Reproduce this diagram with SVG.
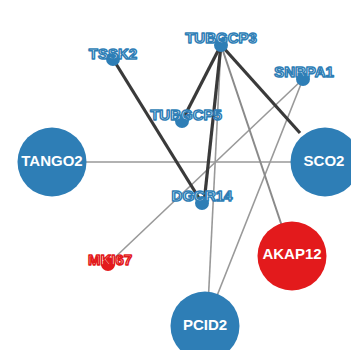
<svg xmlns="http://www.w3.org/2000/svg" width="351" height="350" viewBox="0 0 351 350">
<style>
.e{fill:none;stroke-linecap:butt}
.thick{stroke:#3a3a3a;stroke-width:3.2}
.thin{stroke:#999;stroke-width:1.6}
.mid{stroke:#8a8a8a;stroke-width:2}
.blue{fill:#2e7eb6}
.red{fill:#e31a1c}
.big{font-family:"Liberation Sans",Arial,sans-serif;font-weight:bold;font-size:15px;fill:#fff;text-anchor:middle}
.sm{font-family:"Liberation Sans",Arial,sans-serif;font-weight:bold;font-size:15px;fill:#fff;stroke-width:1.5;text-anchor:middle;stroke-linejoin:round}
.sb{stroke:#2e7eb6}
.sr{stroke:#e31a1c}
</style>
<rect width="351" height="350" fill="#fff"/>
<g id="edges">
<line class="e thin" x1="52" y1="162" x2="325" y2="162"/>
<line class="e thin" x1="108" y1="264" x2="303" y2="79"/>
<line class="e thin" x1="303" y1="79" x2="205" y2="326"/>
<line class="e thin" x1="221" y1="45" x2="207" y2="326"/>
<line class="e mid" x1="221" y1="45" x2="292" y2="256"/>
<line class="e thick" x1="113" y1="59" x2="202" y2="203"/>
<line class="e thick" x1="221" y1="45" x2="182" y2="121"/>
<line class="e thick" x1="221" y1="45" x2="204" y2="203"/>
<line class="e thick" x1="221" y1="45" x2="300" y2="133"/>
</g>
<g id="TANGO2"><circle class="blue" cx="52" cy="162" r="34.5"/><text class="big" x="52" y="166">TANGO2</text></g>
<g id="SCO2"><circle class="blue" cx="325" cy="162" r="34.5"/><text class="big" x="324" y="166">SCO2</text></g>
<g id="AKAP12"><circle class="red" cx="292" cy="256" r="34.5"/><text class="big" x="292" y="259">AKAP12</text></g>
<g id="PCID2"><circle class="blue" cx="205" cy="326" r="34.5"/><text class="big" x="205" y="330">PCID2</text></g>
<g id="TUBGCP3"><circle class="blue" cx="221" cy="45" r="7"/><text class="sm sb" x="221" y="43">TUBGCP3</text></g>
<g id="TSSK2"><circle class="blue" cx="113" cy="59" r="7"/><text class="sm sb" x="113" y="59">TSSK2</text></g>
<g id="TUBGCP5"><circle class="blue" cx="182" cy="121" r="7"/><text class="sm sb" x="186" y="120">TUBGCP5</text></g>
<g id="SNRPA1"><circle class="blue" cx="303" cy="79" r="7"/><text class="sm sb" x="304" y="77">SNRPA1</text></g>
<g id="DGCR14"><circle class="blue" cx="202" cy="203" r="7"/><text class="sm sb" x="202" y="201">DGCR14</text></g>
<g id="MKI67"><circle class="red" cx="108" cy="264" r="7"/><text class="sm sr" x="110" y="265">MKI67</text></g>
</svg>
